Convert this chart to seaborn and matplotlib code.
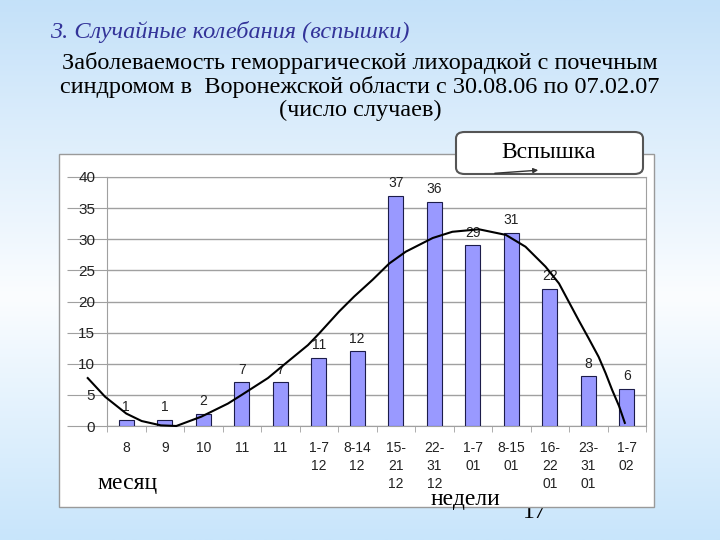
import numpy as np
import pandas as pd
import matplotlib
matplotlib.use('Agg')
import matplotlib.pyplot as plt
from matplotlib.colors import LinearSegmentedColormap
from matplotlib.patches import Rectangle, FancyBboxPatch
import seaborn as sns

# data
periods = ['8', '9', '10', '11', '11', '1-7\n12', '8-14\n12', '15-\n21\n12', '22-\n31\n12',
           '1-7\n01', '8-15\n01', '16-\n22\n01', '23-\n31\n01', '1-7\n02']
cases = [1, 1, 2, 7, 7, 11, 12, 37, 36, 29, 31, 22, 8, 6]

# trend curve, points (x = bar index)
curve_x = [-1.0, -0.55, 0.0, 0.4, 0.9, 1.3, 1.95, 2.64, 3.0, 3.68, 4.03, 4.72, 5.0, 5.53, 5.92,
           6.4, 6.83, 7.26, 7.96, 8.47, 9.16, 9.86, 10.37, 10.89, 11.24, 11.75, 12.0, 12.27,
           12.45, 12.62, 12.8, 12.95]
curve_y = [7.7, 4.7, 2.0, 0.8, 0.1, 0.0, 1.5, 3.6, 5.0, 7.7, 9.5, 13.0, 14.8, 18.4, 20.8,
           23.5, 26.1, 28.0, 30.2, 31.2, 31.6, 30.7, 28.8, 25.6, 22.9, 17.0, 14.2, 11.1,
           8.5, 5.8, 3.2, 0.5]

title = '3. Случайные колебания (вспышки)'
subtitle = ['Заболеваемость геморрагической лихорадкой с почечным',
            'синдромом в  Воронежской области с 30.08.06 по 07.02.07',
            '(число случаев)']

plt.rcParams['font.family'] = ['Liberation Sans', 'DejaVu Sans']
serif = ['Liberation Serif', 'DejaVu Serif']

df = pd.DataFrame({'pos': range(len(cases)), 'cases': cases})

fig = plt.figure(figsize=(7.2, 5.4), dpi=100)

# slide background gradient
bg = fig.add_axes([0, 0, 1, 1], zorder=-10)
cmap = LinearSegmentedColormap.from_list('bg', [(0, '#c4e1f9'), (0.55, '#fbfdff'), (1, '#c8e5fb')])
bg.imshow(np.linspace(0, 1, 256).reshape(-1, 1), aspect='auto', cmap=cmap, extent=[0, 1, 0, 1])
bg.axis('off')

# page number partly hidden behind the chart panel
fig.text(535 / 720, 1 - 512 / 540, '17', fontsize=17, family=serif, ha='center', va='center',
         zorder=-6)

# white chart panel
fig.patches.append(Rectangle((59 / 720, 1 - 507 / 540), 595 / 720, 353 / 540,
                             transform=fig.transFigure, facecolor='white',
                             edgecolor='#9a9a9a', lw=1, zorder=-5))

ax = fig.add_axes([107 / 720, 1 - 426 / 540, 539 / 720, 249 / 540])
ax.set_facecolor('none')
sns.barplot(data=df, x='pos', y='cases', color='#9999ff', saturation=1, edgecolor='#1c1c4a',
            linewidth=0.8, width=0.4, ax=ax, zorder=3)
ax.bar_label(ax.containers[0], padding=4, fontsize=10, color='#222222')
sns.lineplot(x=curve_x, y=curve_y, ax=ax, color='black', lw=1.5, sort=False, clip_on=False,
             zorder=4)

ax.set_xlim(-0.5, len(cases) - 0.5)
ax.set_ylim(0, 40)
ax.set_yticks(range(0, 41, 5))
ax.yaxis.grid(True, color='#a0a0a0', lw=1)
ax.set_axisbelow(True)
ax.tick_params(axis='y', length=29, pad=-20.5, color='#a0a0a0', labelsize=11,
               labelcolor='#222222')
ax.set_xticks(range(len(cases)))
ax.set_xticklabels(periods)
ax.set_xticks(np.arange(-0.5, len(cases), 1), minor=True)
ax.tick_params(axis='x', which='major', length=0, pad=11, labelsize=10, labelcolor='#222222')
ax.tick_params(axis='x', which='minor', length=4, color='#a0a0a0')
for t in ax.get_xticklabels():
    t.set_linespacing(1.35)
for s in ax.spines.values():
    s.set_color('#a0a0a0')
ax.set_xlabel('')
ax.set_ylabel('')

# texts of the slide
fig.text(50 / 720, 1 - 32 / 540, title, fontsize=17.5, family=serif, style='italic',
         color='#333399', va='center')
for i, line in enumerate(subtitle):
    fig.text(0.5, 1 - (63 + 23.5 * i) / 540, line, fontsize=17.5, family=serif,
             ha='center', va='center')
fig.text(128 / 720, 1 - 483 / 540, 'месяц', fontsize=17, family=serif, ha='center', va='center')
fig.text(465 / 720, 1 - 499 / 540, 'недели', fontsize=17, family=serif, ha='center', va='center')

# callout
box = FancyBboxPatch((456 / 720, 1 - 174 / 540), 187 / 720, 42 / 540,
                     boxstyle='round,pad=0,rounding_size=0.012', transform=fig.transFigure,
                     facecolor='white', edgecolor='#555555', lw=1.5, zorder=5)
fig.patches.append(box)
fig.text(549 / 720, 1 - 153 / 540, 'Вспышка', fontsize=17, family=serif, ha='center',
         va='center', zorder=6)
fig.add_artist(plt.Annotation('', xy=(541 / 720, 1 - 170 / 540), xytext=(492 / 720, 1 - 173.5 / 540),
                              xycoords='figure fraction', textcoords='figure fraction',
                              arrowprops=dict(arrowstyle='-|>', color='#333333', lw=1,
                                              mutation_scale=7), zorder=6))

fig.savefig('out.png', dpi=100)
